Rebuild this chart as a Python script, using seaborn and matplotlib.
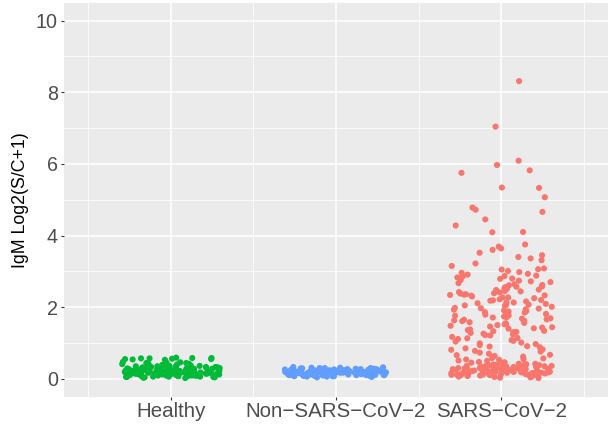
import numpy as np
import pandas as pd
import seaborn as sns
import matplotlib.pyplot as plt
from matplotlib.ticker import MultipleLocator

# group labels (ggplot shows minus signs in the dashes)
groups = ["Healthy", "Non\u2212SARS\u2212CoV\u22122", "SARS\u2212CoV\u22122"]
colors = ["#00BA38", "#619CFF", "#F8766D"]

healthy = [
    0.59, 0.58, 0.57, 0.56, 0.55, 0.58, 0.54, 0.57, 0.55, 0.53,
    0.47, 0.45, 0.44, 0.43, 0.42, 0.46, 0.41, 0.40, 0.44, 0.39,
    0.38, 0.37, 0.36, 0.35, 0.34, 0.36, 0.33, 0.32, 0.31, 0.33,
    0.30, 0.29, 0.28, 0.31, 0.27, 0.26, 0.29, 0.25, 0.24, 0.27,
    0.23, 0.22, 0.21, 0.24, 0.20, 0.19, 0.22, 0.18, 0.17, 0.21,
    0.16, 0.15, 0.14, 0.19, 0.13, 0.12, 0.18, 0.11, 0.10, 0.16,
    0.09, 0.08, 0.15, 0.07, 0.06, 0.14, 0.05, 0.04, 0.12, 0.03,
    0.22, 0.25, 0.19, 0.28, 0.17, 0.23, 0.20, 0.26, 0.14, 0.11,
    0.21, 0.18, 0.24, 0.16, 0.13, 0.27, 0.09, 0.30, 0.07, 0.15,
    0.20, 0.12, 0.33, 0.08, 0.26, 0.05, 0.19, 0.35, 0.10, 0.23,
    0.17, 0.28, 0.06, 0.22, 0.14, 0.31, 0.11, 0.25, 0.04, 0.18,
    0.36, 0.09, 0.21, 0.13, 0.29, 0.16, 0.02, 0.24, 0.12, 0.19,
    0.08, 0.15, 0.27, 0.06, 0.20, 0.11, 0.32, 0.14, 0.05, 0.23,
]

non_sars = [
    0.33, 0.32, 0.31, 0.30, 0.29, 0.31, 0.28, 0.27, 0.30, 0.26,
    0.25, 0.24, 0.27, 0.23, 0.22, 0.25, 0.21, 0.20, 0.23, 0.19,
    0.18, 0.21, 0.17, 0.16, 0.19, 0.15, 0.14, 0.18, 0.13, 0.12,
    0.16, 0.11, 0.10, 0.15, 0.09, 0.08, 0.13, 0.07, 0.06, 0.12,
    0.05, 0.04, 0.11, 0.20, 0.17, 0.22, 0.14, 0.24, 0.19, 0.16,
    0.21, 0.13, 0.18, 0.26, 0.15, 0.20, 0.10, 0.23, 0.17, 0.12,
    0.19, 0.28, 0.14, 0.22, 0.09, 0.18, 0.25, 0.16, 0.11, 0.21,
    0.13, 0.20, 0.27, 0.15, 0.08, 0.24, 0.17, 0.19, 0.12, 0.22,
    0.14, 0.29, 0.18, 0.10, 0.23, 0.16, 0.20, 0.07, 0.26, 0.13,
    0.21, 0.15, 0.18, 0.11, 0.24, 0.17, 0.30, 0.14, 0.19, 0.09,
    0.22, 0.16, 0.12, 0.25, 0.18, 0.06, 0.20, 0.15, 0.23, 0.13,
    0.17, 0.27, 0.11, 0.21, 0.19, 0.14, 0.24, 0.16, 0.08, 0.18,
    0.10, 0.26, 0.15, 0.21, 0.07, 0.19, 0.12, 0.23, 0.17, 0.28,
]

sars = [
    8.31, 7.04, 6.09, 5.97, 5.82, 5.75, 5.34, 5.33, 5.07, 4.78,
    4.72, 4.66, 4.45, 4.28, 4.10, 4.09, 3.75, 3.69, 3.64, 3.60,
    3.52, 3.45, 3.40, 3.36, 3.31, 3.22, 3.08, 3.06, 3.05, 3.01,
    2.96, 2.93, 2.91, 2.87, 2.86, 2.83, 2.80, 2.79, 2.74, 2.72,
    2.70, 2.67, 2.64, 2.61, 2.57, 2.56, 2.51, 2.49, 2.48, 2.45,
    2.44, 2.42, 2.39, 2.38, 2.35, 2.34, 2.32, 2.30, 2.27, 2.27,
    2.25, 2.22, 2.20, 2.18, 2.16, 2.13, 2.13, 2.11, 2.09, 2.07,
    2.05, 2.04, 2.01, 1.98, 1.97, 1.94, 1.93, 1.89, 1.88, 1.85,
    1.83, 1.81, 1.79, 1.77, 1.76, 1.72, 1.71, 1.69, 1.66, 1.65,
    1.63, 1.61, 1.58, 1.56, 1.55, 1.52, 1.50, 1.48, 1.46, 1.44,
    1.41, 1.40, 1.38, 1.34, 1.33, 1.30, 1.28, 1.26, 1.22, 1.21,
    1.17, 1.14, 1.13, 1.08, 1.06, 1.01, 0.99, 0.94, 0.91, 0.90,
    0.85, 0.82, 0.81, 0.76, 0.73, 0.70, 0.67, 0.64, 0.62, 0.58,
    0.57, 0.55, 0.53, 0.51, 0.50, 0.48, 0.47, 0.46, 0.45, 0.44,
    0.43, 0.42, 0.41, 0.40, 0.40, 0.39, 0.38, 0.37, 0.37, 0.36,
    0.35, 0.35, 0.34, 0.33, 0.33, 0.32, 0.31, 0.31, 0.30, 0.30,
    0.29, 0.29, 0.28, 0.28, 0.27, 0.27, 0.26, 0.26, 0.25, 0.25,
    0.24, 0.24, 0.23, 0.23, 0.22, 0.22, 0.21, 0.21, 0.20, 0.20,
    0.19, 0.19, 0.18, 0.18, 0.17, 0.17, 0.16, 0.16, 0.15, 0.15,
    0.14, 0.14, 0.13, 0.13, 0.12, 0.12, 0.11, 0.11, 0.10, 0.10,
    0.09, 0.09, 0.08, 0.08, 0.07, 0.06, 0.05, 0.04, 0.03, 0.02,
    0.38, 0.29, 0.21, 0.33, 0.18, 0.26, 0.12, 0.35, 0.24, 0.16,
    0.31, 0.09, 0.27, 0.19, 0.42, 0.14, 0.23, 0.36, 0.11, 0.28,
    2.88, 2.62, 2.41, 2.19, 1.96, 1.74, 1.53, 1.31, 1.11, 0.97,
    2.76, 2.53, 2.33, 2.06, 1.86, 1.62, 1.43, 1.24, 1.04, 0.88,
    3.15, 2.98, 2.58, 2.36, 1.91, 1.68, 1.36, 0.78, 0.66, 0.54,
]

df = pd.DataFrame({
    "group": [groups[0]] * len(healthy) + [groups[1]] * len(non_sars) + [groups[2]] * len(sars),
    "value": healthy + non_sars + sars,
})

plt.rcParams["font.family"] = ["Liberation Sans", "DejaVu Sans"]

fig = plt.figure(figsize=(6.13, 4.29), dpi=100)
ax = fig.add_axes([64 / 613, 1 - 396.7 / 429, 544 / 613, 394 / 429])
ax.set_facecolor("#EBEBEB")

np.random.seed(3)
sns.stripplot(data=df, x="group", y="value", hue="group", order=groups,
              palette=dict(zip(groups, colors)), jitter=0.31, size=4.4,
              linewidth=0, legend=False, ax=ax, zorder=3)

ax.set_xlim(-0.648, 2.648)
ax.set_ylim(-0.5, 10.5)
ax.yaxis.set_major_locator(MultipleLocator(2))
ax.yaxis.set_minor_locator(MultipleLocator(1))
ax.set_xticks([0, 1, 2])
ax.set_xticks([-0.5, 0.5, 1.5, 2.5], minor=True)

ax.grid(which="major", color="white", linewidth=1.1, zorder=0)
ax.grid(which="minor", color="white", linewidth=0.55, zorder=0)
ax.set_axisbelow(True)
for s in ax.spines.values():
    s.set_visible(False)

ax.tick_params(axis="both", which="major", length=2.5, width=0.8, color="#333333",
               labelcolor="#4D4D4D", pad=2)
ax.tick_params(axis="x", which="major", labelsize=14.8, pad=1)
ax.tick_params(axis="y", which="major", labelsize=14.2)
ax.tick_params(axis="both", which="minor", length=0)

ax.set_xlabel("")
ax.set_ylabel("IgM Log2(S/C+1)", fontsize=12.8, color="black", labelpad=5)

fig.savefig("out.png", dpi=100)
